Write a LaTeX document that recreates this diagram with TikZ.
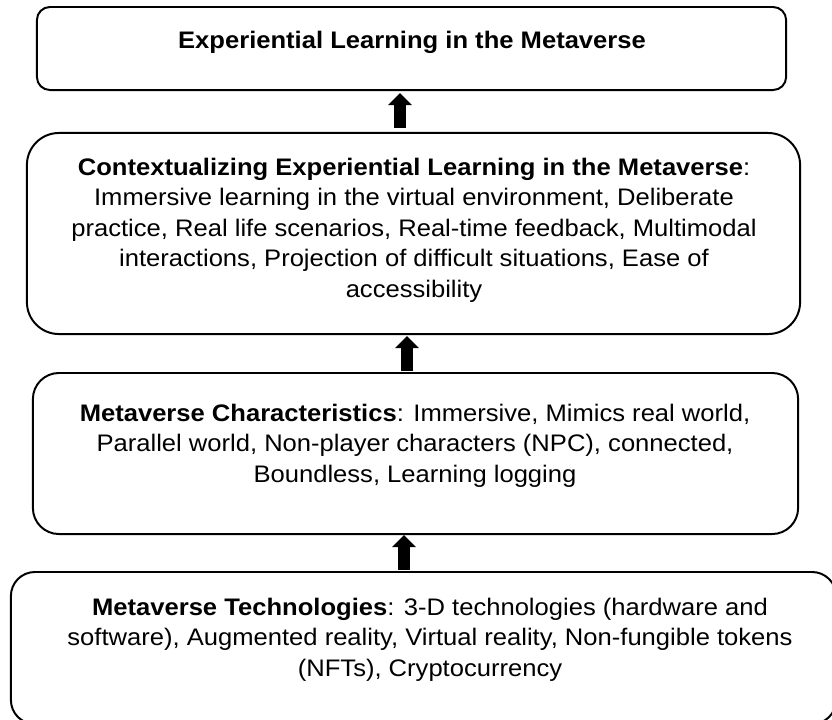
\documentclass[tikz,border=0pt]{standalone}
\usepackage{fontspec}
\setmainfont[FakeStretch=1.07]{Liberation Sans}
\usetikzlibrary{arrows.meta,calc}

\tikzset{
    panel/.style={draw, line width=1.4pt, rounded corners=#1, inner sep=0pt, outer sep=0pt},
    panel/.default=0.6cm,
    blurb/.style={inner sep=0pt, align=center, anchor=north,
        font=\fontsize{17}{21.6}\selectfont},
    uparrow/.style={-{Triangle[length=0.3cm, width=0.575cm]}, line width=0.29cm},
}

\begin{document}
\begin{tikzpicture}[x=0.025cm, y=-0.025cm]
    \clip (0,0) rectangle (832,719);

    % frames
    \node[panel=0.325cm, minimum width=18.725cm, minimum height=2.075cm] (goal) at (411.5,48.5) {};
    \node[panel=0.8cm, minimum width=19.325cm, minimum height=5.025cm] (context) at (413.5,233.5) {};
    \node[panel=0.65cm, minimum width=19.125cm, minimum height=4.025cm] (traits) at (415.5,453.5) {};
    \node[panel=0.6cm, minimum width=20.625cm, minimum height=3.8cm] (tech) at (423.5,648) {};

    % texts
    \node[blurb] (goaltxt) at (412,31) {\textbf{Experiential Learning in the Metaverse}};
    \node[blurb] (contexttxt) at (414,158) {\textbf{Contextualizing Experiential Learning in the Metaverse}:\\
        Immersive learning in the virtual environment, Deliberate\\
        practice, Real life scenarios, Real-time feedback, Multimodal\\
        interactions, Projection of difficult situations, Ease of\\
        accessibility};
    \node[blurb] (traitstxt) at (415,404) {\textbf{Metaverse Characteristics}: Immersive, Mimics real world,\\
        Parallel world, Non-player characters (NPC), connected,\\
        Boundless, Learning logging};
    \node[blurb] (techtxt) at (430,598) {\textbf{Metaverse Technologies}: 3-D technologies (hardware and\\
        software), Augmented reality, Virtual reality, Non-fungible tokens\\
        (NFTs), Cryptocurrency};

    % block arrows going up
    \draw[uparrow] ($(context.north)+(-13.5,-5)$) -- ($(goal.south)+(-11.5,3)$);
    \draw[uparrow] ($(traits.north)+(-8.5,-2)$) -- ($(context.south)+(-6.5,2)$);
    \draw[uparrow] ($(tech.north)+(-19.5,-2)$) -- ($(traits.south)+(-11.5,1)$);
\end{tikzpicture}
\end{document}
